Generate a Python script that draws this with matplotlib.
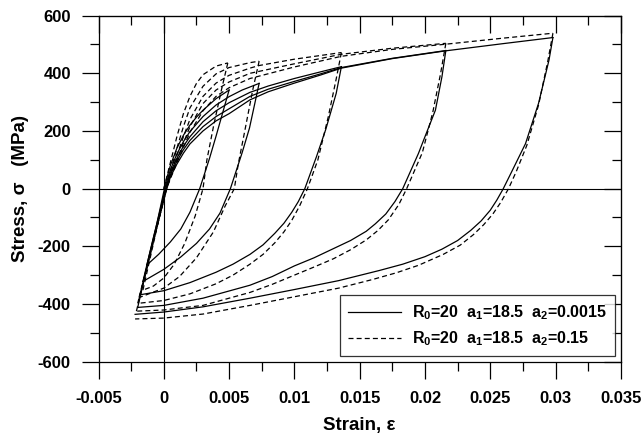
import matplotlib
matplotlib.use("Agg")
import matplotlib.pyplot as plt
from matplotlib.ticker import MultipleLocator, FuncFormatter
from matplotlib.lines import Line2D

plt.rcParams['font.family'] = ['Liberation Sans', 'DejaVu Sans']
plt.rcParams['mathtext.fontset'] = 'custom'
plt.rcParams['mathtext.rm'] = 'Liberation Sans:bold'
plt.rcParams['mathtext.it'] = 'Liberation Sans:bold'
plt.rcParams['mathtext.bf'] = 'Liberation Sans:bold'

# ------------------------------------------------------------------
# branches, (strain, stress MPa)
# solid: R0=20 a1=18.5 a2=0.0015

s_load0 = [(0, 0), (0.0005, 80), (0.001, 140), (0.0015, 185), (0.002, 220),
           (0.0025, 248), (0.003, 272), (0.004, 312), (0.005, 342)]
s_unload1 = [(0.005, 342), (0.0045, 262), (0.004, 182), (0.0035, 105), (0.00275, 0),
             (0.002, -82), (0.0013, -140), (0.0005, -185), (-0.0004, -228), (-0.0013, -265)]
s_load1 = [(-0.0013, -265), (-0.0006, -135), (0, -10), (0.0005, 65), (0.001, 120),
           (0.0015, 163), (0.002, 198), (0.003, 250), (0.004, 290), (0.005, 319),
           (0.006, 342), (0.0073, 365)]
s_unload2 = [(0.0073, 365), (0.00656, 210), (0.006, 125), (0.0051, 0), (0.0043, -85),
             (0.0035, -140), (0.0025, -190), (0.0013, -237), (0, -280), (-0.0016, -322)]
s_load2 = [(-0.0016, -322), (-0.0008, -170), (0.0001, -5), (0.0005, 55), (0.001, 105),
           (0.0015, 147), (0.002, 180), (0.003, 232), (0.004, 270), (0.005, 298),
           (0.0066, 334), (0.008, 356), (0.01, 382), (0.012, 405), (0.0136, 423)]
s_unload3 = [(0.0136, 423), (0.0132, 330), (0.0124, 205), (0.0117, 112), (0.0108, 0),
             (0.0103, -45), (0.0098, -82), (0.0092, -120), (0.0085, -155), (0.0076, -195),
             (0.0066, -228), (0.0053, -262), (0.004, -290), (0.002, -326), (0, -354),
             (-0.0018, -368)]
s_load3 = [(-0.0018, -368), (-0.001, -215), (0.0001, -10), (0.0005, 48), (0.001, 95),
           (0.0015, 135), (0.002, 167), (0.003, 215), (0.004, 250), (0.005, 277),
           (0.0066, 320), (0.008, 345), (0.01, 372), (0.012, 398), (0.0136, 420),
           (0.0175, 452), (0.0216, 479)]
s_unload4 = [(0.0216, 479), (0.0213, 388), (0.0208, 272), (0.02, 180), (0.0195, 122),
             (0.0183, 0), (0.0177, -45), (0.017, -88), (0.0162, -122), (0.0155, -148),
             (0.0143, -180), (0.0129, -210), (0.0115, -240), (0.01, -268), (0.0083, -305),
             (0.0066, -335), (0.003, -380), (0, -405), (-0.002, -412)]
s_load4 = [(-0.002, -412), (-0.0011, -235), (0.0002, -5), (0.0005, 40), (0.001, 85),
           (0.0015, 123), (0.002, 155), (0.003, 200), (0.004, 235), (0.005, 260),
           (0.0066, 308), (0.008, 336), (0.01, 366), (0.012, 394), (0.0136, 418),
           (0.0175, 451), (0.0216, 478), (0.026, 503), (0.0298, 524)]
s_unload5 = [(0.0298, 524), (0.0295, 446), (0.0287, 296), (0.0277, 156), (0.0267, 64),
             (0.026, 0), (0.0255, -40), (0.025, -75), (0.0243, -112), (0.0235, -145),
             (0.0225, -180), (0.0213, -210), (0.02, -236), (0.0183, -262), (0.0165, -284),
             (0.0134, -319), (0.01, -350), (0.0066, -380), (0.003, -410), (0, -428),
             (-0.0022, -436)]

# dashed: R0=20 a1=18.5 a2=0.15
d_load0 = [(0, 0), (0.0005, 90), (0.001, 180), (0.0015, 260), (0.002, 320),
           (0.0025, 365), (0.003, 395), (0.004, 425), (0.0049, 436)]
d_unload1 = [(0.0049, 436), (0.0044, 340), (0.0038, 215), (0.0033, 100), (0.003, 0),
             (0.0024, -95), (0.0016, -190), (0.0008, -262), (0, -310), (-0.0008, -338),
             (-0.0016, -352)]
d_load1 = [(-0.0016, -352), (0.0001, -10), (0.0005, 60), (0.001, 140), (0.0015, 215),
           (0.002, 280), (0.003, 355), (0.004, 398), (0.005, 420), (0.0066, 437),
           (0.0073, 442)]
d_unload2 = [(0.0073, 442), (0.0068, 340), (0.0062, 200), (0.0057, 85), (0.0054, 0),
             (0.0047, -60), (0.0038, -150), (0.0025, -240), (0.0012, -305), (0, -345),
             (-0.0019, -378)]
d_load2 = [(-0.0019, -378), (0.0002, 0), (0.0006, 60), (0.001, 115), (0.0015, 180),
           (0.002, 240), (0.003, 320), (0.004, 366), (0.005, 393), (0.0066, 418),
           (0.0073, 427), (0.01, 449), (0.0136, 472)]
d_unload3 = [(0.0136, 472), (0.0132, 380), (0.0126, 250), (0.0118, 100), (0.011, 0),
             (0.0104, -60), (0.0098, -110), (0.0092, -150), (0.0085, -188), (0.0076, -228),
             (0.0066, -262), (0.0053, -300), (0.004, -330), (0.002, -365), (0, -388),
             (-0.002, -398)]
d_load3 = [(-0.002, -398), (0.0002, 0), (0.001, 100), (0.002, 215), (0.003, 295),
           (0.004, 342), (0.005, 370), (0.0066, 400), (0.01, 433), (0.0136, 466),
           (0.0175, 487), (0.0216, 504)]
d_unload4 = [(0.0216, 504), (0.0212, 400), (0.0206, 265), (0.0198, 125), (0.0186, 0),
             (0.018, -55), (0.0172, -108), (0.0164, -145), (0.0155, -178), (0.0143, -212),
             (0.013, -243), (0.0115, -272), (0.01, -300), (0.0083, -332), (0.0066, -360),
             (0.003, -405), (0, -421), (-0.0021, -425)]
d_load4 = [(-0.0021, -425), (0.0002, 0), (0.001, 90), (0.002, 195), (0.003, 270),
           (0.004, 320), (0.005, 350), (0.0066, 382), (0.01, 422), (0.0136, 459),
           (0.0175, 483), (0.0216, 501), (0.026, 522), (0.0298, 539)]
d_unload5 = [(0.0298, 539), (0.0294, 440), (0.0287, 290), (0.0278, 150), (0.027, 60),
             (0.0264, 0), (0.0258, -48), (0.0252, -88), (0.0245, -125), (0.0237, -160),
             (0.0227, -196), (0.0214, -228), (0.0195, -266), (0.0178, -292), (0.016, -315),
             (0.0134, -345), (0.01, -375), (0.0066, -405), (0.003, -435), (0, -449),
             (-0.0022, -452)]

solid_branches = [s_load0, s_unload1, s_load1, s_unload2, s_load2, s_unload3,
                  s_load3, s_unload4, s_load4, s_unload5]
dashed_branches = [d_load0, d_unload1, d_load1, d_unload2, d_load2, d_unload3,
                   d_load3, d_unload4, d_load4, d_unload5]

label_solid = r'R$_0$=20  a$_1$=18.5  a$_2$=0.0015'
label_dashed = r'R$_0$=20  a$_1$=18.5  a$_2$=0.15'

# ------------------------------------------------------------------
fig = plt.figure(figsize=(6.44, 4.47), dpi=100)
ax = fig.add_axes([0.153, 0.191, 0.811, 0.774])

dash = (0, (4, 2.5))
for br in solid_branches:
    e, s = zip(*br)
    ax.plot(e, s, color='k', lw=0.9)
for br in dashed_branches:
    e, s = zip(*br)
    ax.plot(e, s, color='k', lw=0.9, linestyle=dash)

ax.axhline(0, color='k', lw=0.8)
ax.axvline(0, color='k', lw=0.8)

ax.set_xlim(-0.005, 0.035)
ax.set_ylim(-600, 600)

fmt_x = FuncFormatter(lambda v, p: '%g' % round(v, 4))
fmt_y = FuncFormatter(lambda v, p: '%d' % round(v))
ax.xaxis.set_major_locator(MultipleLocator(0.005))
ax.xaxis.set_minor_locator(MultipleLocator(0.0025))
ax.yaxis.set_major_locator(MultipleLocator(200))
ax.yaxis.set_minor_locator(MultipleLocator(100))
ax.xaxis.set_major_formatter(fmt_x)
ax.yaxis.set_major_formatter(fmt_y)
ax.tick_params(which='major', direction='out', length=12, width=0.9, pad=8,
               labelsize=12)
ax.tick_params(which='minor', direction='out', length=6.5, width=0.9)
ax.tick_params(axis='x', which='major', pad=9)
for lab in ax.get_xticklabels() + ax.get_yticklabels():
    lab.set_fontweight('bold')

# inward ticks on top and right
top = ax.secondary_xaxis('top')
top.xaxis.set_major_locator(MultipleLocator(0.005))
top.xaxis.set_minor_locator(MultipleLocator(0.0025))
top.tick_params(which='major', direction='in', length=12, width=0.9, labeltop=False)
top.tick_params(which='minor', direction='in', length=6.5, width=0.9)
right = ax.secondary_yaxis('right')
right.yaxis.set_major_locator(MultipleLocator(200))
right.yaxis.set_minor_locator(MultipleLocator(100))
right.tick_params(which='major', direction='in', length=12, width=0.9, labelright=False)
right.tick_params(which='minor', direction='in', length=6.5, width=0.9)

for sp in ax.spines.values():
    sp.set_linewidth(0.9)

ax.set_xlabel('Strain, \u03b5', fontsize=13.5, fontweight='bold', labelpad=8)
ax.set_ylabel('Stress, \u03c3   (MPa)', fontsize=13.5, fontweight='bold', labelpad=6)

handles = [Line2D([], [], color='k', lw=0.9),
           Line2D([], [], color='k', lw=0.9, linestyle=dash)]
leg = ax.legend(handles, [label_solid, label_dashed], loc='lower right',
                prop={'size': 11.5, 'weight': 'bold'}, frameon=True, fancybox=False,
                edgecolor='k', handlelength=3.3, handletextpad=0.7, labelspacing=0.45,
                borderaxespad=0.35, borderpad=0.5)
leg.get_frame().set_linewidth(0.9)

fig.savefig('out.png', dpi=100)
